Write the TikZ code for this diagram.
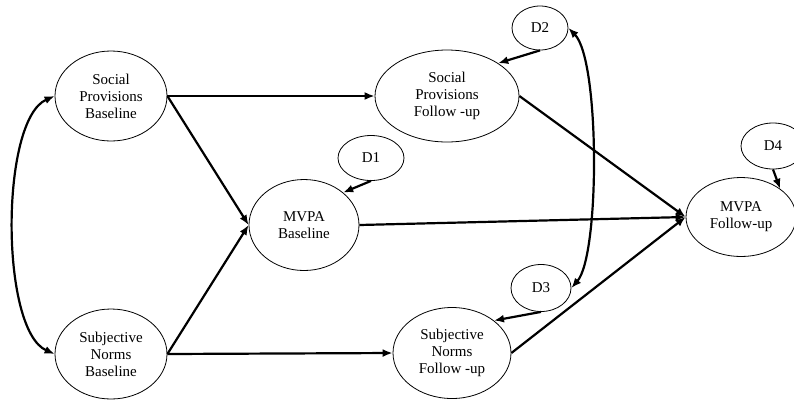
\documentclass[tikz,border=0pt]{standalone}
\usepackage{fontspec}
\setmainfont{Liberation Serif}
\usepackage{tikz}
\usetikzlibrary{arrows.meta, shapes.geometric}

\begin{document}
\begin{tikzpicture}[x=1pt, y=-1pt,
  latent/.style={draw, ellipse, line width=0.8pt, inner sep=0pt, align=center,
    font=\fontsize{15}{17}\selectfont},
  path/.style={-{Latex[length=10pt, width=8pt]}, line width=2.2pt},
  cov/.style={{Latex[length=10pt, width=8pt]}-{Latex[length=10pt, width=8pt]}, line width=2.2pt}]
  \useasboundingbox (0,0) rectangle (794,400);
  % Baseline
  \node[latent, minimum width=112pt, minimum height=90pt] (spbase) at (111,96)
    {Social\\Provisions\\Baseline};
  \node[latent, minimum width=112pt, minimum height=90pt] (snbase) at (111,354)
    {Subjective\\Norms\\Baseline};
  \node[latent, minimum width=110pt, minimum height=91pt] (mvbase) at (304,225)
    {MVPA\\Baseline};
  % Follow-up
  \node[latent, minimum width=144pt, minimum height=92pt] (spfu) at (447,96)
    {Social\\Provisions\\Follow -up};
  \node[latent, minimum width=118pt, minimum height=91pt] (snfu) at (452,353)
    {Subjective\\Norms\\Follow -up};
  \node[latent, minimum width=110pt, minimum height=79pt] (mvfu) at (741,217)
    {MVPA\\Follow-up};
  % Disturbances
  \node[latent, minimum width=66pt, minimum height=45pt] (d1) at (371,158) {D1};
  \node[latent, minimum width=56pt, minimum height=44pt] (d2) at (540,28) {D2};
  \node[latent, minimum width=60pt, minimum height=47pt] (d3) at (541,288) {D3};
  \node[latent, minimum width=64pt, minimum height=46pt] (d4) at (773,146) {D4};
  % Paths
  \draw[path] (spbase.east) -- (spfu.west);
  \draw[path] (spbase.east) -- (mvbase.west);
  \draw[path] (snbase.east) -- (mvbase.west);
  \draw[path] (snbase.east) -- (snfu.west);
  \draw[path] (spfu.east) -- (mvfu.west);
  \draw[path] (mvbase.east) -- (mvfu.west);
  \draw[path] (snfu.east) -- (mvfu.west);
  % Disturbance paths
  \draw[path] (d1.south) -- (mvbase.north east);
  \draw[path] (d2.south) -- (spfu.north east);
  \draw[path] (d3.south) -- (snfu.north east);
  \draw[path] (d4.south) -- (mvfu.north east);
  % Covariances
  \draw[cov] (spbase.west) .. controls (0,120) and (0,330) .. (snbase.west);
  \draw[cov] (d2.east) .. controls (600,60) and (600,255) .. (d3.east);
\end{tikzpicture}
\end{document}
